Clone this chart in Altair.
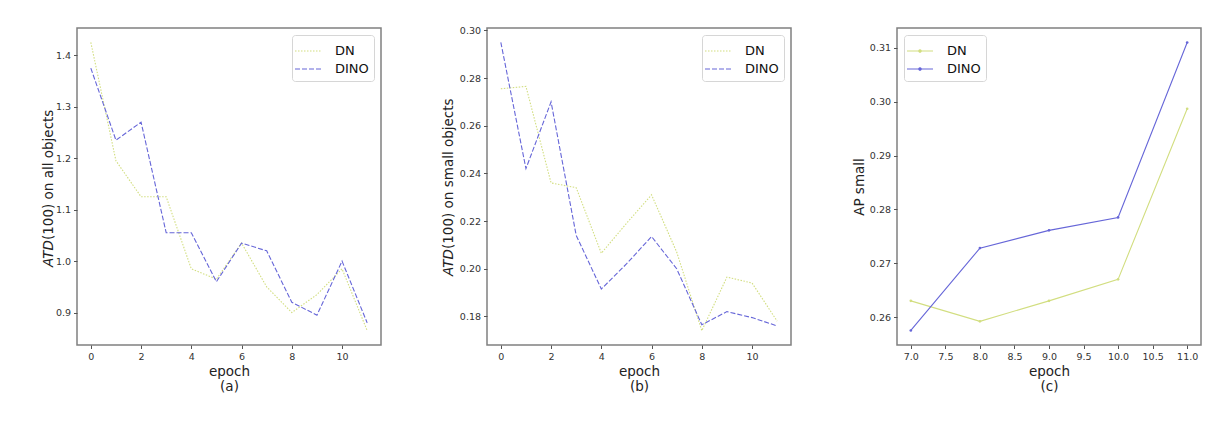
import altair as alt
import pandas as pd

# ---------------- data ----------------
epochs_ab = [0, 1, 2, 3, 4, 5, 6, 7, 8, 9, 10, 11]
dn_a   = [1.425, 1.195, 1.125, 1.125, 0.985, 0.965, 1.035, 0.950, 0.900, 0.935, 0.985, 0.865]
dino_a = [1.375, 1.235, 1.270, 1.055, 1.055, 0.960, 1.035, 1.020, 0.920, 0.895, 1.000, 0.880]

dn_b   = [0.2755, 0.2765, 0.2360, 0.2340, 0.2065, 0.2190, 0.2310, 0.2070, 0.1740, 0.1965, 0.1940, 0.1780]
dino_b = [0.2950, 0.2420, 0.2700, 0.2140, 0.1915, 0.2020, 0.2135, 0.2000, 0.1765, 0.1820, 0.1795, 0.1760]

epochs_c = [7, 8, 9, 10, 11]
dn_c   = [0.2630, 0.2592, 0.2630, 0.2670, 0.2987]
dino_c = [0.2575, 0.2728, 0.2761, 0.2785, 0.3110]

series = ["DN", "DINO"]
colors = ["#d2de80", "#6666d8"]

x_ticks_ab = [0, 2, 4, 6, 8, 10]
x_ticks_c = [7.0, 7.5, 8.0, 8.5, 9.0, 9.5, 10.0, 10.5, 11.0]
y_ticks_a = [0.9, 1.0, 1.1, 1.2, 1.3, 1.4]
y_ticks_b = [0.18, 0.20, 0.22, 0.24, 0.26, 0.28, 0.30]
y_ticks_c = [0.26, 0.27, 0.28, 0.29, 0.30, 0.31]

FONT = "DejaVu Sans"
W, H = 304, 317


def long_df(epochs, dn, dino):
    return pd.DataFrame({
        "epoch": list(epochs) + list(epochs),
        "value": list(dn) + list(dino),
        "model": ["DN"] * len(epochs) + ["DINO"] * len(epochs),
    })


def legend(orient, symbol):
    return alt.Legend(
        title=None, orient=orient, offset=7,
        strokeColor="#d6d6d6", fillColor="white", cornerRadius=3,
        padding=5, labelFont=FONT, labelFontSize=13, labelColor="#111",
        symbolType=symbol, symbolSize=400, symbolStrokeWidth=1.1,
        labelOffset=16, rowPadding=-1,
    )


def panel(epochs, dn, dino, xdom, xticks, xfmt, ydom, yticks, yfmt, sub,
          ytitle, italic_split=None, dashed=True, orient="top-right"):
    df = long_df(epochs, dn, dino)
    x = alt.X("epoch:Q", scale=alt.Scale(domain=xdom, nice=False, zero=False),
              axis=alt.Axis(values=xticks, format=xfmt, title=["epoch", sub],
                            titlePadding=3))
    y = alt.Y("value:Q", scale=alt.Scale(domain=ydom, nice=False, zero=False),
              axis=alt.Axis(values=yticks, format=yfmt, titlePadding=3,
                            title=None if italic_split is not None else ytitle))
    if dashed:
        sym = "M-1.3,0H1.3"
        enc = dict(
            color=alt.Color("model:N", scale=alt.Scale(domain=series, range=colors),
                            legend=legend(orient, sym)),
            strokeDash=alt.StrokeDash("model:N",
                                      scale=alt.Scale(domain=series, range=[[1.5, 1.5], [5, 2]]),
                                      legend=legend(orient, sym)),
        )
        lines = alt.Chart(df).mark_line(strokeWidth=1.1, clip=True).encode(x=x, y=y, **enc)
    else:
        sym = "M-1.3,0H1.3M-0.12,0a0.12,0.12 0 1,0 0.24,0a0.12,0.12 0 1,0 -0.24,0"
        lines = alt.Chart(df).mark_line(
            strokeWidth=1.1, clip=True,
            point=alt.OverlayMarkDef(size=7, filled=True)).encode(
            x=x, y=y,
            color=alt.Color("model:N", scale=alt.Scale(domain=series, range=colors),
                            legend=legend(orient, sym)))
    layers = [lines]
    if italic_split is not None:
        xpos, ysplit, rest = italic_split
        lab = pd.DataFrame({"t": [0]})
        layers.append(alt.Chart(lab).mark_text(
            angle=270, align="right", baseline="middle", font=FONT, fontSize=13.5,
            fontStyle="italic", color="#222").encode(
            x=alt.value(xpos), y=alt.value(ysplit), text=alt.value("ATD")))
        layers.append(alt.Chart(lab).mark_text(
            angle=270, align="left", baseline="middle", font=FONT, fontSize=13.5,
            color="#222").encode(
            x=alt.value(xpos), y=alt.value(ysplit), text=alt.value(rest)))
    return alt.layer(*layers).properties(width=W, height=H)


pa = panel(epochs_ab, dn_a, dino_a, [-0.55, 11.55], x_ticks_ab, "d",
           [0.837, 1.453], y_ticks_a, ".1f", "(a)", None,
           italic_split=(-28, 212, "(100) on all objects"))
pb = panel(epochs_ab, dn_b, dino_b, [-0.55, 11.55], x_ticks_ab, "d",
           [0.168, 0.301], y_ticks_b, ".2f", "(b)", None,
           italic_split=(-38, 221, "(100) on small objects"))
pc = panel(epochs_c, dn_c, dino_c, [6.8, 11.2], x_ticks_c, ".1f",
           [0.2548, 0.3137], y_ticks_c, ".2f", "(c)", "AP small",
           dashed=False, orient="top-left")

chart = alt.hconcat(pa, pb, pc, spacing=59).resolve_scale(
    color="independent", strokeDash="independent"
).properties(
    padding={"left": 33, "top": 16, "right": 5, "bottom": 5}
).configure_view(
    stroke="#808080", strokeWidth=1.5
).configure_axis(
    domain=False, grid=False,
    labelFont=FONT, labelFontSize=9.5, labelColor="#333",
    titleFont=FONT, titleFontSize=13.5, titleColor="#222", titleFontWeight="normal",
    tickColor="#555", tickSize=3.5, tickWidth=1, labelPadding=3,
    titleLineHeight=15,
)

chart.save("out.html", embed_options={"renderer": "svg", "actions": False})
